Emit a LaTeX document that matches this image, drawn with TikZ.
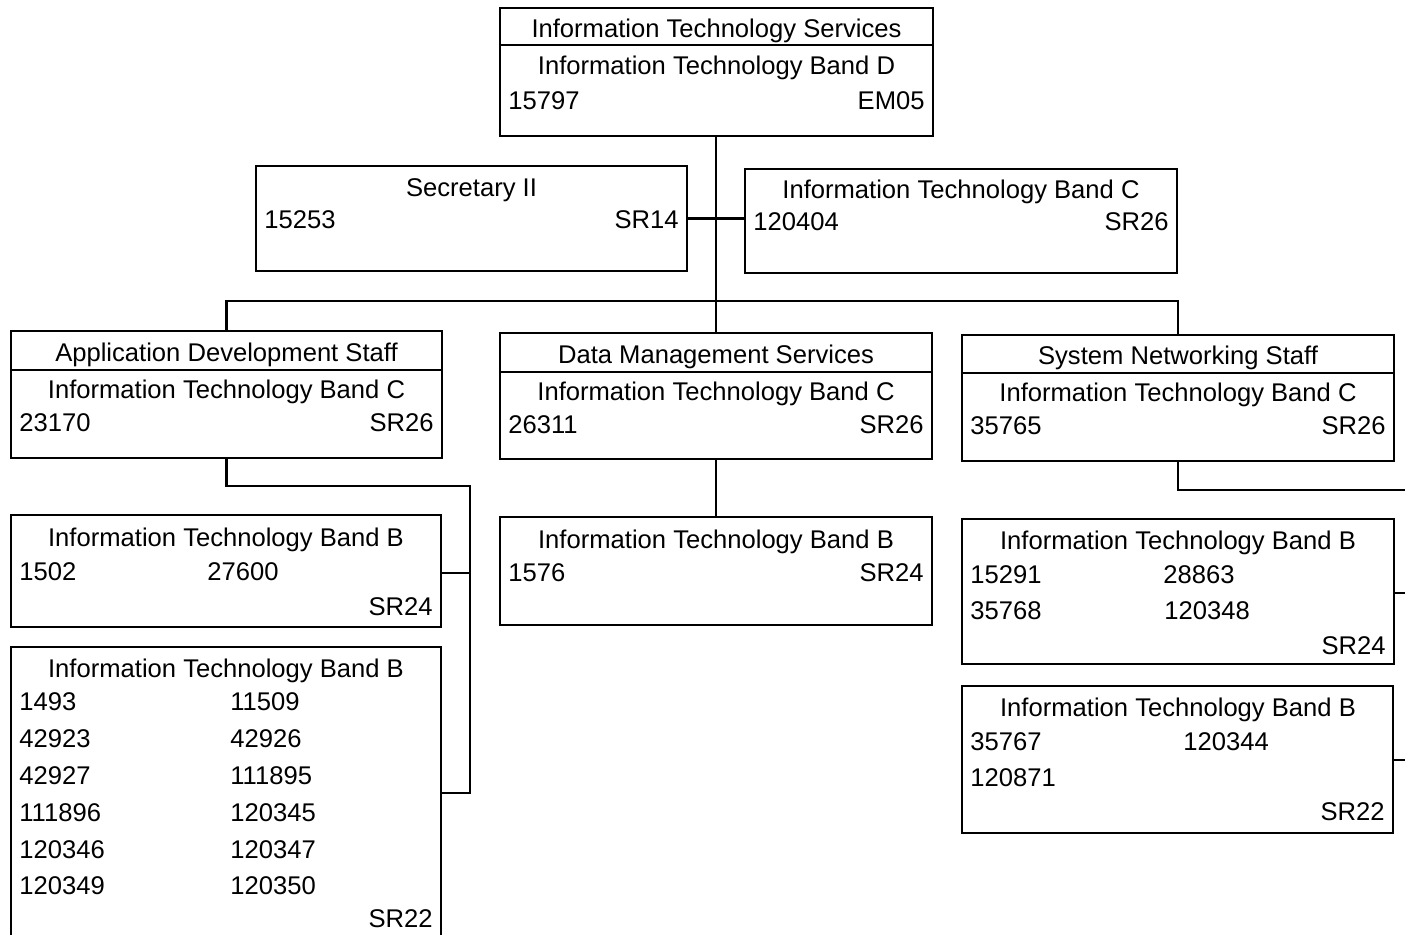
\documentclass[tikz,border=0pt]{standalone}
\usepackage{fontspec}
\setmainfont{Liberation Sans}
\usetikzlibrary{fit}
\tikzset{
  box/.style={draw, line width=1.2pt, inner sep=0pt, fit={#1}},
  conn/.style={draw, line width=1.3pt},
  divider/.style={draw, line width=1.1pt},
  ctext/.style={anchor=base, inner sep=0pt},
  ltext/.style={anchor=base west, inner sep=0pt},
  rtext/.style={anchor=base east, inner sep=0pt},
}
\begin{document}
\begin{tikzpicture}[x=0.5pt,y=-0.5pt,font=\fontsize{12.8}{15}\selectfont]
\clip (0,0) rectangle (1405,935);
% boxes
\node[box={(500,8) (933,136)}] (top) {};
\node[box={(256,166) (687,271)}] (sec) {};
\node[box={(745,169) (1177,273)}] (itc) {};
\node[box={(11,331) (442,458)}] (ad) {};
\node[box={(500,333) (932,459)}] (dm) {};
\node[box={(962,335) (1394,461)}] (sn) {};
\node[box={(11,515) (441,627)}] (adb1) {};
\node[box={(11,647) (441,940)}] (adb2) {};
\node[box={(500,517) (932,625)}] (dmb) {};
\node[box={(962,519) (1394,664)}] (snb1) {};
\node[box={(962,686) (1393,833)}] (snb2) {};
% dividers
\draw[divider] (top.west |- 0,45) -- (top.east |- 0,45);
\draw[divider] (ad.west |- 0,370) -- (ad.east |- 0,370);
\draw[divider] (dm.west |- 0,372) -- (dm.east |- 0,372);
\draw[divider] (sn.west |- 0,373) -- (sn.east |- 0,373);
% connector coordinates
\coordinate (bus) at (716,301);
\coordinate (adt) at (470,486);
\coordinate (snt) at (1420,490);
% connectors
\draw[conn] (dm.north |- top.south) -- (dm.north);
\draw[conn] (sec.east) -- (sec.east -| itc.west);
\draw[conn] (ad.north) -- (ad.north |- bus) -- (sn.north |- bus) -- (sn.north);
\draw[conn] (ad.south) |- (adt) -- (adt |- 0,793) -- (adb2.east |- 0,793);
\draw[conn] (adb1.east |- 0,573) -- (adt |- 0,573);
\draw[conn] (dm.south) -- (dmb.north);
\draw[conn] (sn.south) |- (snt) -- (snt |- 0,760) -- (snb2.east |- 0,760);
\draw[conn] (snb1.east |- 0,593) -- (snt |- 0,593);
% top
\node[ctext] (t1) at (716.5,38) {Information Technology Services};
\node[ctext] (t2) at (716.5,75) {Information Technology Band D};
\node[ltext] (t3) at (508,110) {15797};
\node[rtext] (t4) at (925,110) {EM05};
% secretary
\node[ctext] (s1) at (471.5,197) {Secretary II};
\node[ltext] (s2) at (264,229) {15253};
\node[rtext] (s3) at (679,229) {SR14};
% itc
\node[ctext] (c1) at (961,199) {Information Technology Band C};
\node[ltext] (c2) at (753,231) {120404};
\node[rtext] (c3) at (1169,231) {SR26};
% app dev
\node[ctext] (a1) at (226.5,362) {Application Development Staff};
\node[ctext] (a2) at (226.5,399) {Information Technology Band C};
\node[ltext] (a3) at (19,432) {23170};
\node[rtext] (a4) at (434,432) {SR26};
% data mgmt
\node[ctext] (d1) at (716,364) {Data Management Services};
\node[ctext] (d2) at (716,401) {Information Technology Band C};
\node[ltext] (d3) at (508,434) {26311};
\node[rtext] (d4) at (924,434) {SR26};
% system networking
\node[ctext] (n1) at (1178,365) {System Networking Staff};
\node[ctext] (n2) at (1178,402) {Information Technology Band C};
\node[ltext] (n3) at (970,435) {35765};
\node[rtext] (n4) at (1386,435) {SR26};
% app dev band B 1
\node[ctext] (e1) at (226,547) {Information Technology Band B};
\node[ltext] (e2) at (19,581) {1502};
\node[ltext] (e3) at (207,581) {27600};
\node[rtext] (e4) at (433,616) {SR24};
% app dev band B 2
\node[ctext] (f0) at (226,678) {Information Technology Band B};
\node[ltext] (f1) at (19,711) {1493};
\node[ltext] (f2) at (230,711) {11509};
\node[ltext] (f3) at (19,748) {42923};
\node[ltext] (f4) at (230,748) {42926};
\node[ltext] (f5) at (19,785) {42927};
\node[ltext] (f6) at (230,785) {111895};
\node[ltext] (f7) at (19,822) {111896};
\node[ltext] (f8) at (230,822) {120345};
\node[ltext] (f9) at (19,859) {120346};
\node[ltext] (f10) at (230,859) {120347};
\node[ltext] (f11) at (19,895) {120349};
\node[ltext] (f12) at (230,895) {120350};
\node[rtext] (f13) at (433,928) {SR22};
% data mgmt band B
\node[ctext] (g1) at (716,549) {Information Technology Band B};
\node[ltext] (g2) at (508,582) {1576};
\node[rtext] (g3) at (924,582) {SR24};
% sn band B 1
\node[ctext] (h1) at (1178,550) {Information Technology Band B};
\node[ltext] (h2) at (970,584) {15291};
\node[ltext] (h3) at (1163,584) {28863};
\node[ltext] (h4) at (970,620) {35768};
\node[ltext] (h5) at (1164,620) {120348};
\node[rtext] (h6) at (1386,655) {SR24};
% sn band B 2
\node[ctext] (k1) at (1178,717) {Information Technology Band B};
\node[ltext] (k2) at (970,751) {35767};
\node[ltext] (k3) at (1183,751) {120344};
\node[ltext] (k4) at (970,787) {120871};
\node[rtext] (k5) at (1385,821) {SR22};
\end{tikzpicture}
\end{document}
